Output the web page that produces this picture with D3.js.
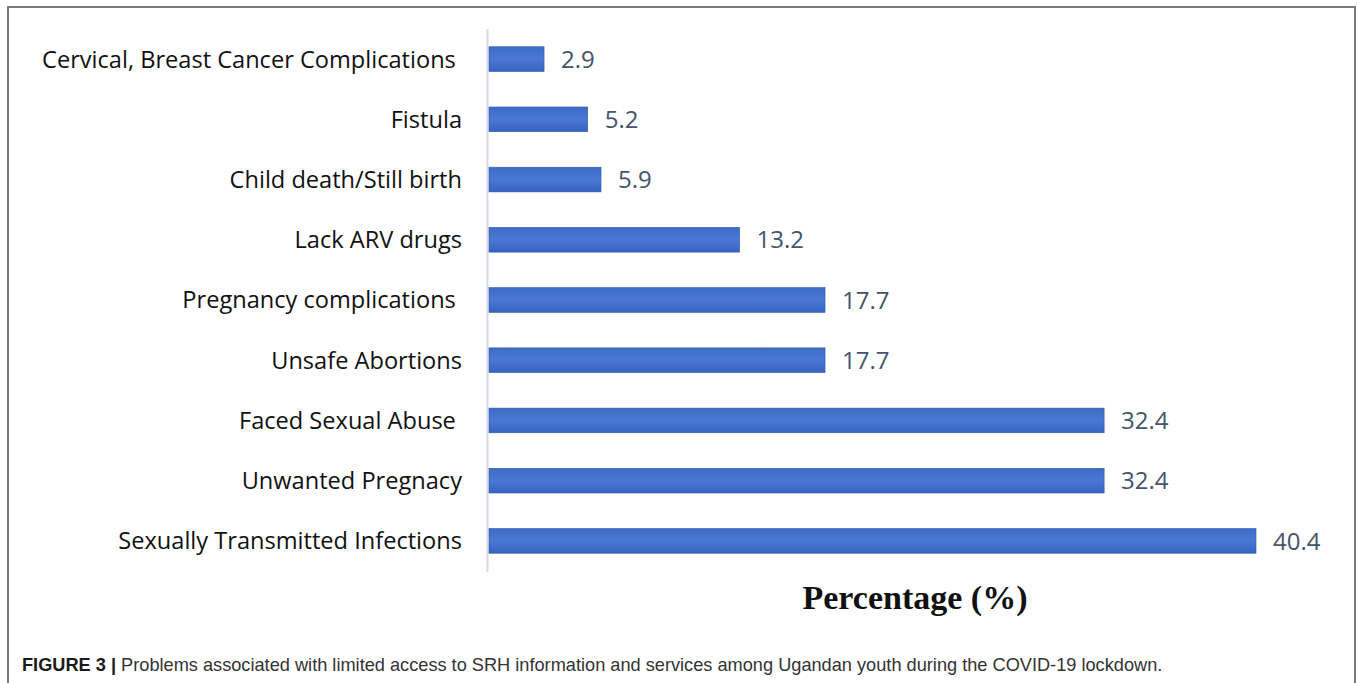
<!DOCTYPE html>
<html><head><meta charset="utf-8">
<script src="https://cdn.jsdelivr.net/npm/d3@7"></script>
<style>html,body{margin:0;padding:0;background:#fff;}svg{display:block;}</style>
</head><body>
<svg id="chart" width="1357" height="683"></svg>
<script>
const categories = [
  "Cervical, Breast Cancer Complications ",
  "Fistula",
  "Child death/Still birth",
  "Lack ARV drugs",
  "Pregnancy complications ",
  "Unsafe Abortions",
  "Faced Sexual Abuse ",
  "Unwanted Pregnacy",
  "Sexually Transmitted Infections"
];
const values = [2.9, 5.2, 5.9, 13.2, 17.7, 17.7, 32.4, 32.4, 40.4];
const xLabel = "Percentage (%)";
const captionBold = "FIGURE 3 |";
const captionText = " Problems associated with limited access to SRH information and services among Ugandan youth during the COVID-19 lockdown.";

const svg = d3.select("#chart");
const W = 1357, H = 683;

// frame
svg.append("path")
  .attr("d", `M8,${H} L8,7 L1355,7 L1355,${H}`)
  .attr("fill", "none").attr("stroke", "#7a7a7a").attr("stroke-width", 2);

const x = d3.scaleLinear().domain([0, 40.4]).range([489, 1256]);
const y = d3.scaleBand().domain(categories).range([29, 571]).paddingInner(0.59).paddingOuter(0.295);

const defs = svg.append("defs");
const grad = defs.append("linearGradient").attr("id", "barGrad").attr("x1", 0).attr("y1", 0).attr("x2", 0).attr("y2", 1);
grad.append("stop").attr("offset", "0%").attr("stop-color", "#3d6cc6");
grad.append("stop").attr("offset", "50%").attr("stop-color", "#4a78d2");
grad.append("stop").attr("offset", "100%").attr("stop-color", "#3563c0");

// axis line
svg.append("line").attr("x1", 487.5).attr("x2", 487.5).attr("y1", 29).attr("y2", 572)
  .attr("stroke", "#d6dbe4").attr("stroke-width", 2);

svg.selectAll("rect.bar").data(values).join("rect")
  .attr("class", "bar")
  .attr("x", x(0))
  .attr("y", (d, i) => y(categories[i]))
  .attr("width", d => x(d) - x(0))
  .attr("height", y.bandwidth())
  .attr("fill", "url(#barGrad)")
  .attr("stroke", "#2f5aae").attr("stroke-width", 0.6);

svg.selectAll("text.val").data(values).join("text")
  .attr("class", "val")
  .attr("x", d => x(d) + 17)
  .attr("y", (d, i) => y(categories[i]) + y.bandwidth() / 2)
  .attr("dy", "0.36em")
  .attr("font-family", "'Open Sans', sans-serif")
  .attr("font-size", 24)
  .attr("fill", "#44546a")
  .text(d => d.toFixed(1));

svg.selectAll("text.cat").data(categories).join("text")
  .attr("class", "cat")
  .attr("x", 462)
  .attr("y", d => y(d) + y.bandwidth() / 2)
  .attr("dy", "0.36em")
  .attr("text-anchor", "end")
  .attr("font-family", "'Open Sans', sans-serif")
  .attr("font-size", 23.6)
  .attr("fill", "#111")
  .style("white-space", "pre")
  .text(d => d.replace(/ $/, "\u00a0"));

svg.append("text")
  .attr("x", 915).attr("y", 609)
  .attr("text-anchor", "middle")
  .attr("font-family", "'Liberation Serif', serif")
  .attr("font-weight", "bold")
  .attr("font-size", 34)
  .attr("fill", "#111")
  .text(xLabel);

const cap = svg.append("text")
  .attr("x", 22).attr("y", 671)
  .attr("font-family", "'Liberation Sans', Arial, sans-serif")
  .attr("font-size", 18.2)
  .attr("fill", "#333");
cap.append("tspan").attr("font-weight", "bold").attr("fill", "#1a1a1a").text(captionBold);
cap.append("tspan").text(captionText);
</script>
</body></html>
